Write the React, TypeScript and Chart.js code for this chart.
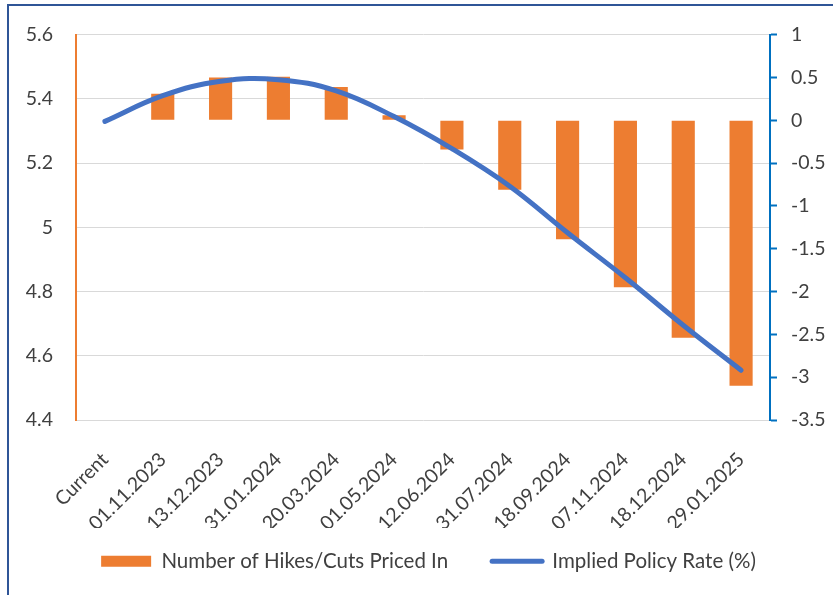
import React, { useEffect, useRef } from "react";
import { Chart, registerables } from "chart.js";

Chart.register(...registerables);

const categories = [
  "Current",
  "01.11.2023",
  "13.12.2023",
  "31.01.2024",
  "20.03.2024",
  "01.05.2024",
  "12.06.2024",
  "31.07.2024",
  "18.09.2024",
  "07.11.2024",
  "18.12.2024",
  "29.01.2025",
];

const hikesCutsPricedIn = [0, 0.31, 0.5, 0.51, 0.39, 0.06, -0.34, -0.81, -1.39, -1.95, -2.54, -3.1];

const impliedPolicyRate = [5.33, 5.41, 5.455, 5.46, 5.425, 5.345, 5.245, 5.128, 4.983, 4.843, 4.695, 4.555];

const leftTicks = { min: 4.4, max: 5.6, step: 0.2 };
const rightTicks = { min: -3.5, max: 1, step: 0.5 };

const FONT = "Lato, 'Open Sans', sans-serif";
const TEXT = "#404040";
const ORANGE = "#ED7D31";
const BLUE_LINE = "#4472C4";
const BLUE_AXIS = "#0070C0";

const fmt = (v: number | string) => String(+Number(v).toFixed(2));

export default function App() {
  const ref = useRef<HTMLCanvasElement | null>(null);

  useEffect(() => {
    if (!ref.current) return;
    const chart = new Chart(ref.current, {
      type: "bar",
      data: {
        labels: categories,
        datasets: [
          {
            type: "bar",
            label: "Number of Hikes/Cuts Priced In",
            data: hikesCutsPricedIn,
            backgroundColor: ORANGE,
            borderWidth: 0,
            yAxisID: "y1",
            order: 2,
            barPercentage: 0.4,
            categoryPercentage: 1,
          },
          {
            type: "line",
            label: "Implied Policy Rate (%)",
            data: impliedPolicyRate,
            borderColor: BLUE_LINE,
            backgroundColor: BLUE_LINE,
            borderWidth: 5,
            borderCapStyle: "round",
            borderJoinStyle: "round",
            tension: 0.4,
            pointRadius: 0,
            pointHoverRadius: 0,
            yAxisID: "y",
            order: 1,
          },
        ],
      },
      options: {
        responsive: false,
        animation: false,
        layout: { padding: { top: 33, left: 24, right: 0, bottom: 13.5 } },
        plugins: {
          tooltip: { enabled: false },
          legend: {
            position: "bottom",
            labels: {
              font: { family: FONT, size: 20.5 },
              color: TEXT,
              usePointStyle: true,
              pointStyleWidth: 50,
              boxHeight: 11,
              padding: 23,
              generateLabels: () => [
                {
                  text: "Number of Hikes/Cuts Priced In    ",
                  fillStyle: ORANGE,
                  strokeStyle: ORANGE,
                  lineWidth: 0,
                  pointStyle: "rect",
                  fontColor: TEXT,
                  datasetIndex: 0,
                  hidden: false,
                },
                {
                  text: "Implied Policy Rate (%)",
                  fillStyle: BLUE_LINE,
                  strokeStyle: BLUE_LINE,
                  lineWidth: 5,
                  lineCap: "round",
                  pointStyle: "line",
                  fontColor: TEXT,
                  datasetIndex: 1,
                  hidden: false,
                },
              ],
            },
          },
        },
        scales: {
          x: {
            grid: { display: false },
            border: { display: false },
            ticks: {
              font: { family: FONT, size: 19.5 },
              color: TEXT,
              minRotation: 45,
              maxRotation: 45,
              autoSkip: false,
              padding: 20,
            },
            afterFit: (s: any) => {
              s.height = 108;
            },
          },
          y: {
            position: "left",
            min: leftTicks.min,
            max: leftTicks.max,
            grid: { color: "#D9D9D9", lineWidth: 1, drawTicks: false },
            border: { display: true, color: ORANGE, width: 2 },
            ticks: {
              stepSize: leftTicks.step,
              font: { family: FONT, size: 19.5 },
              color: TEXT,
              padding: 23,
              callback: (v: any) => fmt(v),
            },
            afterFit: (s: any) => {
              s.width = 52;
            },
          },
          y1: {
            position: "right",
            min: rightTicks.min,
            max: rightTicks.max,
            grid: {
              drawOnChartArea: false,
              drawTicks: true,
              tickLength: 7,
              tickColor: BLUE_AXIS,
              tickWidth: 2,
            },
            border: { display: true, color: BLUE_AXIS, width: 2 },
            ticks: {
              stepSize: rightTicks.step,
              font: { family: FONT, size: 19.5 },
              color: TEXT,
              padding: 14,
              callback: (v: any) => fmt(v),
            },
            afterFit: (s: any) => {
              s.width = 63;
            },
          },
        },
      },
    });
    return () => chart.destroy();
  }, []);

  return (
    <div style={{ position: "fixed", left: 0, top: 0, width: 833, height: 595, overflow: "hidden", background: "#fff" }}>
      <div
        style={{
          position: "absolute",
          left: 7,
          top: 4,
          width: 900,
          height: 700,
          border: "2px solid #2F5597",
          boxSizing: "border-box",
        }}
      />
      <canvas ref={ref} width={833} height={595} style={{ position: "absolute", left: 0, top: 0, width: 833, height: 595 }} />
    </div>
  );
}
